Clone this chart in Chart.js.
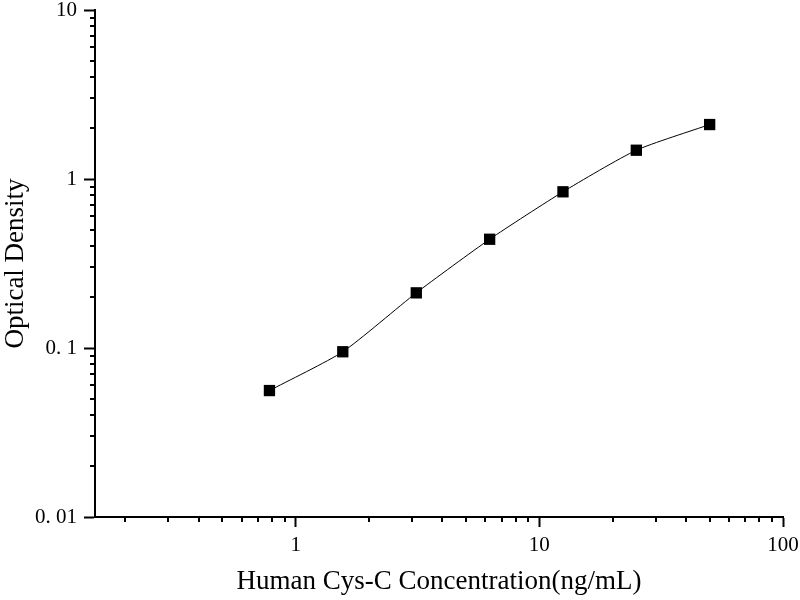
<!DOCTYPE html>
<html lang="en">
<head>
<meta charset="UTF-8">
<title>Human Cys-C standard curve</title>
<script src="https://cdn.jsdelivr.net/npm/chart.js"></script>
<style>
  body { margin: 0; background: #fff; }
  .wrap { width: 800px; height: 600px; }
</style>
</head>
<body>
<div class="wrap"><canvas id="curve" width="800" height="600"></canvas></div>
<script>
// standard curve points
const concentration = [0.78, 1.56, 3.125, 6.25, 12.5, 25, 50];
const opticalDensity = [0.056, 0.095, 0.212, 0.44, 0.84, 1.48, 2.1];

// major ticks and their labels
const xMajor = [1, 10, 100];
const xTickLabels = ['1', '10', '100'];
const yMajor = [0.01, 0.1, 1, 10];
const yTickLabels = ['0. 01', '0. 1', '1', '10'];

const xTitle = 'Human Cys-C Concentration(ng/mL)';
const yTitle = 'Optical Density';

// minor ticks 2..9 of each decade
function minorsOf(decades) {
    const out = [];
    decades.forEach(d => { for (let k = 2; k <= 9; k++) out.push(+(d * k).toPrecision(3)); });
    return out;
}
const xMinor = minorsOf([0.1, 1, 10]).filter(v => v >= 0.15);
const yMinor = minorsOf([0.01, 0.1, 1]);

const serif = '"Liberation Serif", "Times New Roman", serif';

// short minor ticks, drawn through the chart's own scales
const minorTicks = {
    id: 'minorTicks',
    afterDraw(chart) {
        const { ctx, scales: { x, y } } = chart;
        ctx.save();
        ctx.strokeStyle = '#000';
        ctx.lineWidth = 2;
        ctx.beginPath();
        xMinor.forEach(v => {
            const px = Math.round(x.getPixelForValue(v));
            ctx.moveTo(px, x.top);
            ctx.lineTo(px, x.top + 5);
        });
        yMinor.forEach(v => {
            const py = Math.round(y.getPixelForValue(v));
            ctx.moveTo(y.right, py);
            ctx.lineTo(y.right - 5, py);
        });
        ctx.stroke();
        ctx.restore();
    }
};

new Chart(document.getElementById('curve'), {
    type: 'line',
    data: {
        datasets: [{
            data: concentration.map((c, i) => ({ x: c, y: opticalDensity[i] })),
            borderColor: '#000',
            borderWidth: 1,
            tension: 0.2,
            pointStyle: 'rect',
            pointRadius: 8,
            pointBackgroundColor: '#000',
            pointBorderWidth: 0
        }]
    },
    options: {
        responsive: false,
        devicePixelRatio: 1,
        animation: false,
        layout: { padding: { top: 10, right: 17, left: 0, bottom: 0 } },
        plugins: { legend: { display: false }, tooltip: { enabled: false } },
        scales: {
            x: {
                type: 'logarithmic',
                min: 0.15,
                max: 100,
                afterBuildTicks: s => { s.ticks = xMajor.map(v => ({ value: v })); },
                afterFit: s => { s.height = 83; s.paddingLeft = 0; s.paddingRight = 0; },
                grid: { drawOnChartArea: false, tickLength: 10, tickWidth: 2, tickColor: '#000' },
                border: { color: '#000', width: 2 },
                ticks: {
                    color: '#000',
                    font: { family: serif, size: 21 },
                    padding: 6,
                    maxRotation: 0,
                    autoSkip: false,
                    callback: (v, i) => xTickLabels[i]
                },
                title: {
                    display: true,
                    text: xTitle,
                    color: '#000',
                    font: { family: serif, size: 27 },
                    padding: { top: 2, bottom: 2 }
                }
            },
            y: {
                type: 'logarithmic',
                min: 0.01,
                max: 10,
                afterBuildTicks: s => { s.ticks = yMajor.map(v => ({ value: v })); },
                afterFit: s => { s.width = 95; s.paddingTop = 0; s.paddingBottom = 0; },
                grid: { drawOnChartArea: false, tickLength: 11, tickWidth: 2, tickColor: '#000' },
                border: { color: '#000', width: 2 },
                ticks: {
                    color: '#000',
                    font: { family: serif, size: 21 },
                    padding: 7,
                    autoSkip: false,
                    callback: (v, i) => yTickLabels[i]
                },
                title: {
                    display: true,
                    text: yTitle,
                    color: '#000',
                    font: { family: serif, size: 27 },
                    padding: { top: 0, bottom: 0 }
                }
            }
        }
    },
    plugins: [minorTicks]
});
</script>
</body>
</html>
